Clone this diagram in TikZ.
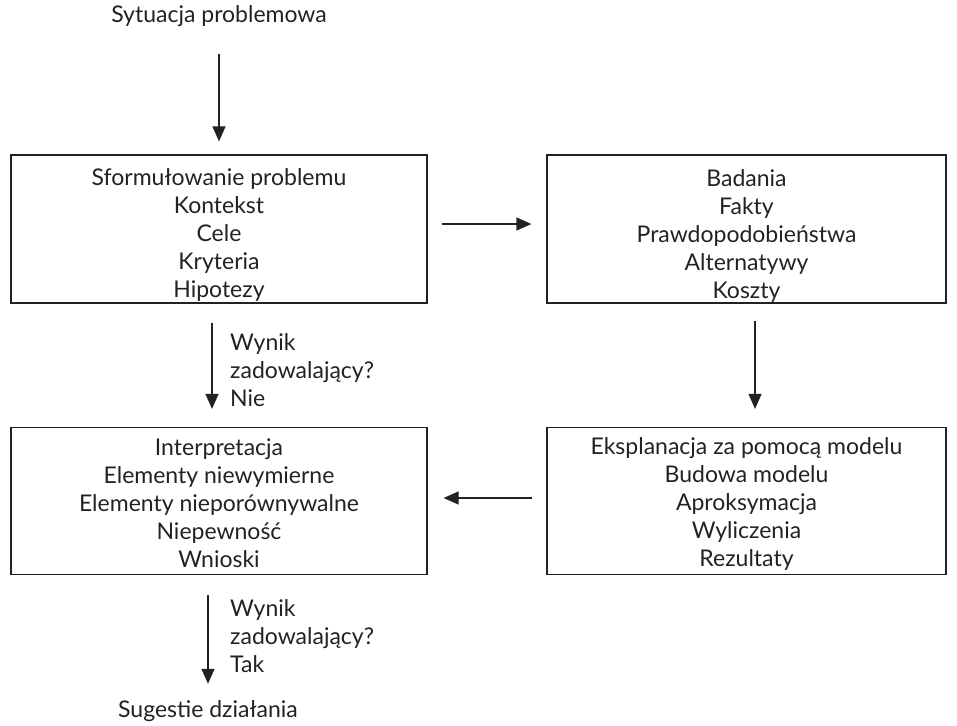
\documentclass[tikz,border=0pt]{standalone}
\usepackage{fontspec}
\setmainfont{Lato}
\usetikzlibrary{arrows.meta}
\definecolor{ink}{HTML}{222222}
\definecolor{txt}{HTML}{222222}
\begin{document}
\begin{tikzpicture}[x=1pt,y=-1pt,
  every node/.style={font=\fontsize{23}{28}\selectfont, text=txt},
  box/.style={draw=ink, line width=1.2pt, inner sep=0pt},
  lines/.style={align=center, inner sep=0pt},
  plain/.style={inner sep=0pt, text height=15pt, text depth=5pt},
  note/.style={align=left, anchor=west, inner sep=0pt},
  arr/.style={draw=ink, line width=1.2pt, -{Triangle[length=15pt,width=13pt]}}]
\useasboundingbox (0,0) rectangle (957,725);

% start and end of the process
\node[plain] (start) at (219,18) {Sytuacja problemowa};
\node[plain] (finish) at (208,712) {Sugestie działania};

% the four stages: frames
\node[box, minimum width=416pt, minimum height=148pt] (form) at (219,229) {};
\node[box, minimum width=399pt, minimum height=148pt] (research) at (746.5,229) {};
\node[box, minimum width=399pt, minimum height=147pt] (model) at (746.5,501) {};
\node[box, minimum width=416pt, minimum height=147pt] (interp) at (219,501) {};

% the four stages: contents
\node[lines] (form-t) at (219,235)
  {Sformułowanie problemu\\Kontekst\\Cele\\Kryteria\\Hipotezy};
\node[lines] (research-t) at (746.5,236)
  {Badania\\Fakty\\Prawdopodobieństwa\\Alternatywy\\Koszty};
\node[lines] (model-t) at (746.5,503.5)
  {Eksplanacja za pomocą modelu\\Budowa modelu\\Aproksymacja\\Wyliczenia\\Rezultaty};
\node[lines] (interp-t) at (219,503.5)
  {Interpretacja\\Elementy niewymierne\\Elementy nieporównywalne\\Niepewność\\Wnioski};

% decision labels
\node[note] (no) at (230,370) {Wynik\\zadowalający?\\Nie};
\node[note] (yes) at (230,636) {Wynik\\zadowalający?\\Tak};

% connectors
\draw[arr, shorten <=26pt, shorten >=13pt] (start) -- (form);
\draw[arr, shorten <=14pt, shorten >=15pt] ([yshift=5pt]form.east) -- ([yshift=5pt]research.west);
\draw[arr, shorten <=17pt, shorten >=18pt] ([xshift=8.5pt]research.south) -- ([xshift=8.5pt]model.north);
\draw[arr, shorten <=14pt, shorten >=16pt] ([yshift=3pt]model.west) -- ([yshift=3pt]interp.east);
\draw[arr, shorten <=19pt, shorten >=18pt] ([xshift=-7pt]form.south) -- ([xshift=-7pt]interp.north);
\draw[arr, shorten <=20pt, shorten >=18pt] (interp.south -| finish) -- (finish);
\end{tikzpicture}
\end{document}
